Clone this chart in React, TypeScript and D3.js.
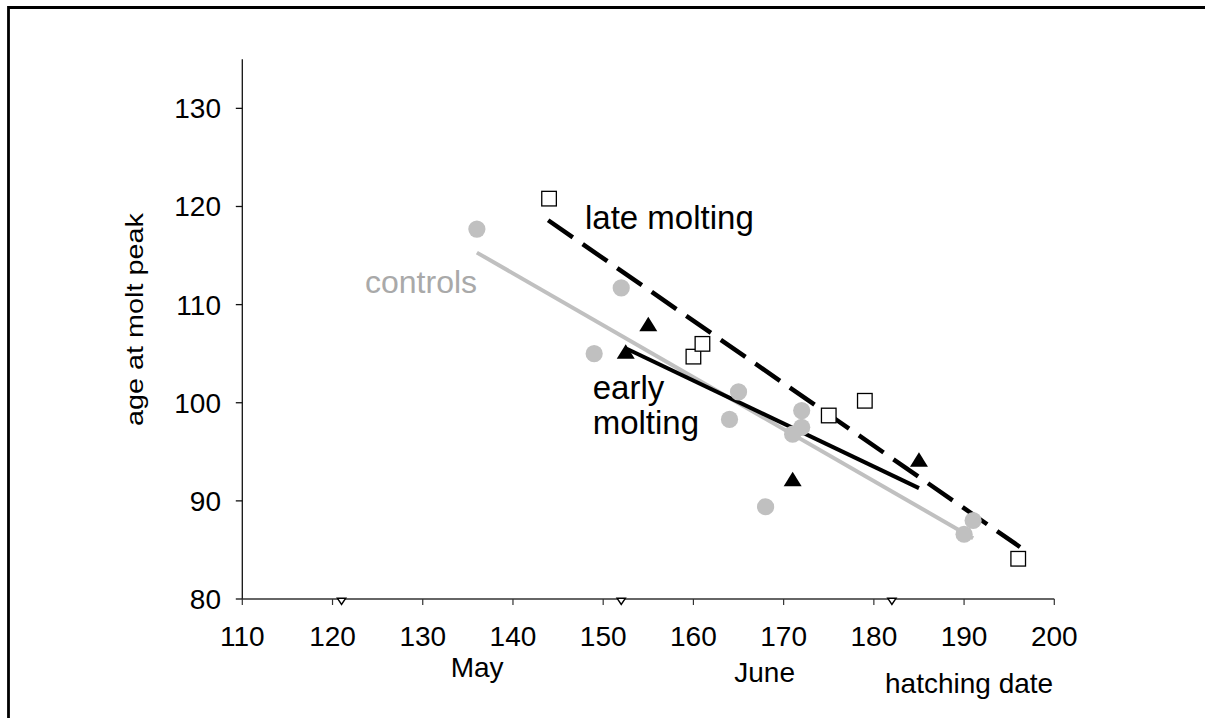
// Age at molt peak vs. hatching date, redrawn with d3 scales.

import * as d3 from "d3";

// controls (grey dots)
const controlDates = [136, 149, 152, 164, 165, 168, 171, 172, 172, 190, 191];
const controlAges = [117.7, 105.0, 111.7, 98.3, 101.1, 89.4, 96.8, 97.5, 99.2, 86.6, 88.0];

// early molting (black triangles)
const earlyDates = [152.5, 155, 171, 185];
const earlyAges = [105.2, 108.0, 92.2, 94.2];

// late molting (open squares)
const lateDates = [144, 160, 161, 175, 179, 196];
const lateAges = [120.8, 104.7, 106.0, 98.7, 100.2, 84.1];

// fitted lines, endpoints
const controlFitDates = [136, 191];
const controlFitAges = [115.3, 86.2];
const earlyFitDates = [152.6, 185];
const earlyFitAges = [105.5, 91.3];
const lateFitDates = [143.9, 196.2];
const lateFitAges = [118.6, 85.3];

// first day of May, June, July
const monthStarts = [121, 152, 182];

const xTicks = [110, 120, 130, 140, 150, 160, 170, 180, 190, 200];
const yTicks = [80, 90, 100, 110, 120, 130];

const FONT = "'Liberation Sans', Arial, Helvetica, sans-serif";
const GREY = "#c0c0c0";

export default function App() {
  const width = 1205;
  const height = 718;

  const x = d3.scaleLinear([110, 200], [242.3, 1054.3]);
  const y = d3.scaleLinear([80, 135], [599, 59.3]);
  const [y0] = y.range();

  const fit = (dates: number[], ages: number[]) =>
    d3.line<number>((d) => x(d), (_, i) => y(ages[i]))(dates) || "";

  return (
    <svg
      width={width}
      height={height}
      style={{ position: "absolute", left: 0, top: 0, background: "#fff" }}
      fontFamily={FONT}
    >
      {/* frame, cut off at right and bottom */}
      <path d="M8.5,720 V7.5 H1210" fill="none" stroke="#000" strokeWidth={2.8} />

      {/* y axis */}
      <line x1={x(110)} x2={x(110)} y1={y(135)} y2={y0} stroke="#111" strokeWidth={1.3} />
      {yTicks.map((t) => (
        <g key={t}>
          <line x1={x(110) - 6.5} x2={x(110)} y1={y(t)} y2={y(t)} stroke="#111" strokeWidth={1.3} />
          <text x={221} y={y(t) + 10} fontSize={28} textAnchor="end" fill="#000">
            {t}
          </text>
        </g>
      ))}
      <text
        transform={`translate(143,319.5) rotate(-90)`}
        fontSize={23.5}
        textAnchor="middle"
        textLength={213}
        lengthAdjust="spacingAndGlyphs"
      >
        age at molt peak
      </text>

      {/* x axis */}
      <line x1={x(110)} x2={x(200)} y1={y0} y2={y0} stroke="#333" strokeWidth={1.3} />
      {xTicks.map((t) => (
        <g key={t}>
          <line x1={x(t)} x2={x(t)} y1={y0} y2={y0 + 6} stroke="#333" strokeWidth={1.2} />
          <text x={x(t)} y={646} fontSize={28} textAnchor="middle">
            {t}
          </text>
        </g>
      ))}
      {monthStarts.map((m) => (
        <path
          key={m}
          d={`M${x(m) - 4.2},${y0 - 0.8} L${x(m) + 4.2},${y0 - 0.8} L${x(m)},${y0 + 5.5} Z`}
          fill="#fff"
          stroke="#000"
          strokeWidth={1.4}
        />
      ))}
      <text x={450.7} y={677} fontSize={28}>May</text>
      <text x={734.3} y={681.5} fontSize={28}>June</text>
      <text x={885} y={693} fontSize={28}>hatching date</text>

      {/* fitted lines */}
      <path d={fit(controlFitDates, controlFitAges)} fill="none" stroke={GREY} strokeWidth={4} />
      <path d={fit(earlyFitDates, earlyFitAges)} fill="none" stroke="#000" strokeWidth={4} />
      <path
        d={fit(lateFitDates, lateFitAges)}
        fill="none"
        stroke="#000"
        strokeWidth={4.5}
        strokeDasharray="30 12"
      />

      {/* points */}
      {controlDates.map((d, i) => (
        // biome-ignore lint/suspicious/noArrayIndexKey: static data
        <circle key={i} cx={x(d)} cy={y(controlAges[i])} r={8.6} fill={GREY} />
      ))}
      {earlyDates.map((d, i) => {
        const cx = x(d);
        const cy = y(earlyAges[i]);
        return (
          // biome-ignore lint/suspicious/noArrayIndexKey: static data
          <path key={i} d={`M${cx},${cy - 7.5} L${cx + 9},${cy + 7} L${cx - 9},${cy + 7} Z`} fill="#000" />
        );
      })}
      {lateDates.map((d, i) => (
        // biome-ignore lint/suspicious/noArrayIndexKey: static data
        <rect
          key={i}
          x={x(d) - 7.3}
          y={y(lateAges[i]) - 7.3}
          width={14.6}
          height={14.6}
          fill="#fff"
          stroke="#000"
          strokeWidth={1.3}
        />
      ))}

      {/* labels */}
      <text x={585} y={229} fontSize={33}>late molting</text>
      <text x={365} y={293} fontSize={32} fill="#a9a9a9">controls</text>
      <text x={592.7} y={399} fontSize={33}>early</text>
      <text x={592.7} y={434} fontSize={33}>molting</text>
    </svg>
  );
}
